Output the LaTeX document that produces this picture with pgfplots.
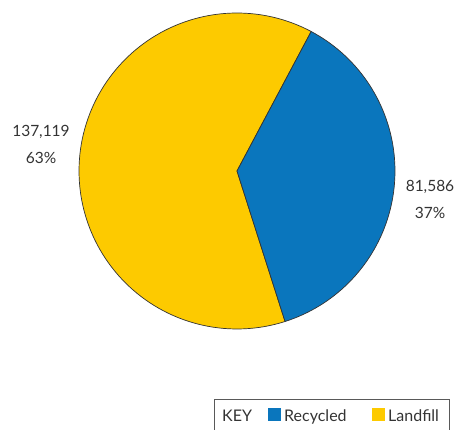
\documentclass[border=0pt]{standalone}
\usepackage{pgfplots}
\pgfplotsset{compat=1.18}
\usepackage{fontspec}
\setmainfont{Lato}
\definecolor{recblue}{HTML}{0A76BD}
\definecolor{landyel}{HTML}{FDCA00}
\definecolor{txt}{HTML}{333333}
\begin{document}
\begin{tikzpicture}[x=1pt,y=1pt]
\useasboundingbox (0,0) rectangle (458,430);
% data
\def\valR{81586}
\def\valL{137119}
\edef\startA{62}
\edef\spanR{\fpeval{round(360*\valR/(\valR+\valL),4)}}
\edef\endA{\fpeval{\startA-\spanR}}
\edef\endL{\fpeval{\startA+360-\spanR}}
\begin{axis}[
  at={(237pt,259pt)}, anchor=origin,
  scale only axis, width=316pt, height=316pt,
  xmin=-1, xmax=1, ymin=-1, ymax=1,
  hide axis, clip=false,
]
\addplot[fill=landyel, draw=black!80, line width=0.7pt, domain=\startA:\endL, samples=120, variable=\t]
  ({cos(\t)},{sin(\t)}) -- (0,0) -- cycle;
\addplot[fill=recblue, draw=black!80, line width=0.7pt, domain=\endA:\startA, samples=80, variable=\t]
  ({cos(\t)},{sin(\t)}) -- (0,0) -- cycle;
\end{axis}
\begin{scope}[every node/.style={text=txt, font=\fontsize{15.5}{27}\selectfont, align=center}]
\node at (41,286) {137,119\\63\%};
\node at (430,231) {81,586\\37\%};
\end{scope}
\begin{scope}[every node/.style={text=txt, font=\fontsize{16}{20}\selectfont}]
% legend
\draw[black!65, line width=0.8pt] (214,-5) rectangle (449,31);
\node[anchor=base west, inner sep=0] at (222,8) {KEY};
\fill[recblue] (268,9) rectangle (281,22);
\node[anchor=base west, inner sep=0] at (284,8) {Recycled};
\fill[landyel] (372,9) rectangle (385,22);
\node[anchor=base west, inner sep=0] at (388,8) {Landfill};
\end{scope}
\end{tikzpicture}
\end{document}
